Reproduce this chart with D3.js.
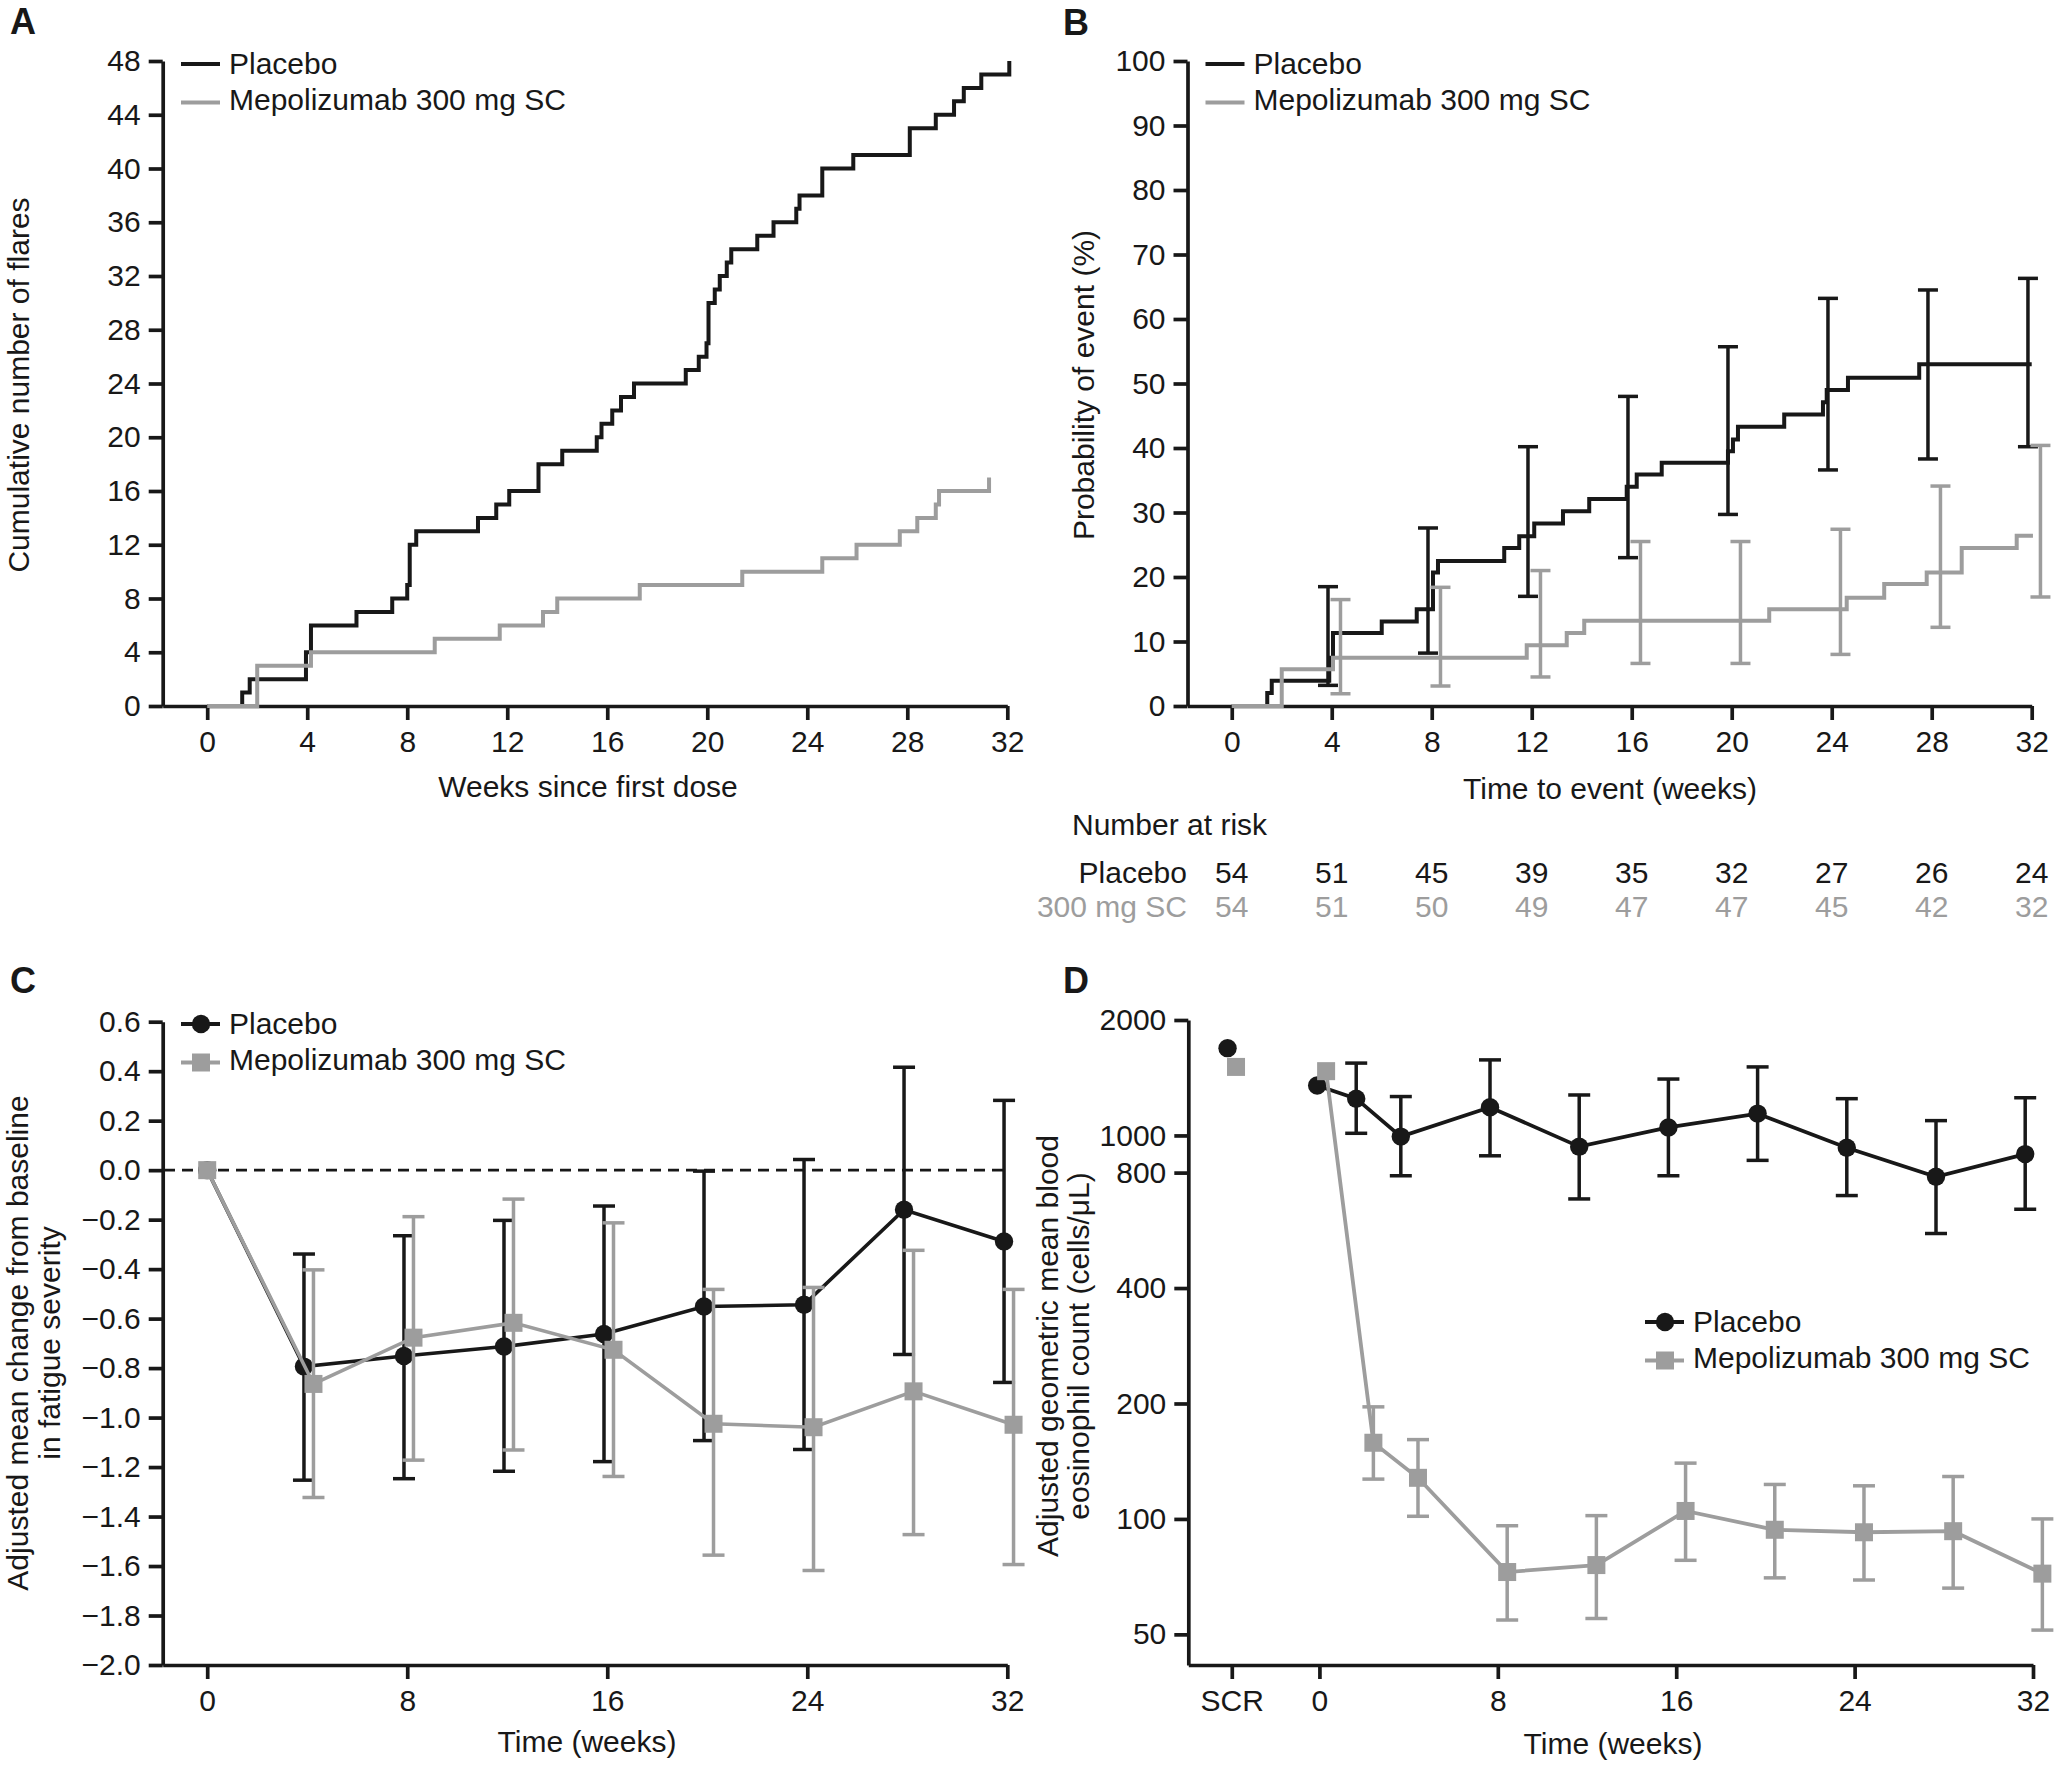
<!DOCTYPE html>
<html>
<head>
<meta charset="utf-8">
<script src="https://cdn.jsdelivr.net/npm/d3@7"></script>
<style>
  body { margin: 0; background: #fff; }
  svg text { font-family: "Liberation Sans", Arial, Helvetica, sans-serif; }
</style>
</head>
<body>
<div id="chart"></div>
<script>
// ---- panel A: cumulative flares (one entry per flare, week of event)
var flareWeeksPlacebo = [1.4, 1.7, 3.95, 3.95, 4.15, 4.15, 5.97, 7.4, 8.0, 8.1, 8.1, 8.1, 8.36,
  10.83, 11.56, 12.08, 13.25, 13.25, 14.2, 15.58, 15.77, 16.2, 16.55, 17.07, 19.14, 19.66,
  19.97, 20.05, 20.05, 20.05, 20.3, 20.5, 20.78, 20.96, 22.0, 22.65, 23.56, 23.69, 24.6, 24.6,
  25.84, 28.1, 28.1, 29.14, 29.87, 30.26, 30.96, 32.08]
var flareWeeksMepo = [2.0, 2.0, 2.0, 4.15, 9.1, 11.7, 13.43, 14.0, 17.3, 21.4, 24.6, 25.97,
  27.7, 28.4, 29.14, 29.27, 31.27]
var flareTicksY = [0, 4, 8, 12, 16, 20, 24, 28, 32, 36, 40, 44, 48]
var weekTicks4 = [0, 4, 8, 12, 16, 20, 24, 28, 32]

// ---- panel B: Kaplan-Meier time to first flare (%)
var kmPlaceboWeeks = [1.42, 1.6, 3.9, 4.05, 6.0, 7.4, 8.05, 8.25, 10.9, 11.5, 12.1, 13.25, 14.3,
  15.8, 16.2, 17.2, 19.85, 20.05, 20.25, 22.1, 23.65, 23.8, 24.65, 27.5]
var kmPlaceboProb = [2.0, 3.9, 7.5, 11.3, 13.1, 15.0, 20.7, 22.5, 24.5, 26.3, 28.3, 30.2, 32.1,
  34.0, 35.9, 37.7, 39.5, 41.3, 43.3, 45.2, 47.1, 49.0, 50.9, 53.0]
var kmPlaceboEnd = 32
var kmMepoWeeks = [2.0, 4.05, 11.8, 13.4, 14.1, 21.5, 24.6, 26.1, 27.8, 29.2, 31.4]
var kmMepoProb = [5.7, 7.5, 9.4, 11.3, 13.2, 15.0, 16.8, 18.9, 20.7, 24.5, 26.4]
var kmMepoEnd = 32.05
var ciWeeks = [4, 8, 12, 16, 20, 24, 28, 32]
var ciPlaceboHi = [18.5, 27.6, 40.2, 48.0, 55.7, 63.2, 64.5, 66.3]
var ciPlaceboLo = [3.2, 8.2, 17.0, 23.0, 29.7, 36.6, 38.3, 40.2]
var ciMepoHi = [16.5, 18.4, 21.0, 25.5, 25.5, 27.4, 34.1, 40.4]
var ciMepoLo = [1.9, 3.1, 4.5, 6.6, 6.6, 8.0, 12.2, 16.9]
var probTicks = [0, 10, 20, 30, 40, 50, 60, 70, 80, 90, 100]
var atRiskPlacebo = [54, 51, 45, 39, 35, 32, 27, 26, 24]
var atRiskMepo = [54, 51, 50, 49, 47, 47, 45, 42, 32]

// ---- panel C: fatigue severity change from baseline
var fatigueWeeks = [0, 4, 8, 12, 16, 20, 24, 28, 32]
var fatiguePlacebo = [0, -0.794, -0.751, -0.713, -0.662, -0.551, -0.544, -0.160, -0.288]
var fatiguePlaceboHi = [null, -0.339, -0.265, -0.203, -0.145, -0.004, 0.043, 0.416, 0.282]
var fatiguePlaceboLo = [null, -1.253, -1.247, -1.217, -1.178, -1.093, -1.129, -0.745, -0.858]
var fatigueMepo = [0, -0.864, -0.677, -0.617, -0.726, -1.025, -1.039, -0.894, -1.029]
var fatigueMepoHi = [null, -0.403, -0.188, -0.117, -0.213, -0.482, -0.474, -0.324, -0.482]
var fatigueMepoLo = [null, -1.323, -1.172, -1.131, -1.238, -1.556, -1.618, -1.473, -1.594]
var fatigueTicksX = [0, 8, 16, 24, 32]

// ---- panel D: blood eosinophils (cells/uL), log scale
var eosWeeks = [0, 2, 4, 8, 12, 16, 20, 24, 28, 32]
var eosScrPlacebo = 1689
var eosScrMepo = 1509
var eosPlacebo = [1350, 1247, 993, 1184, 935, 1049, 1140, 929, 780, 894]
var eosPlaceboHi = [null, 1544, 1263, 1574, 1275, 1403, 1509, 1247, 1093, 1254]
var eosPlaceboLo = [null, 1013, 785, 885, 683, 785, 861, 697, 555, 642]
var eosMepo = [1471, 158, 128, 72.7, 75.8, 104.9, 93.7, 92.3, 92.9, 72]
var eosMepoHi = [null, 196, 161, 96, 102, 139.8, 123, 122, 129, 100]
var eosMepoLo = [null, 127, 101.6, 54.5, 55, 78, 70.2, 69.3, 66, 51.3]
var eosTicksY = [50, 100, 200, 400, 800, 1000, 2000]
var eosTicksX = ['SCR', 0, 8, 16, 24, 32]

var seriesNames = ['Placebo', 'Mepolizumab 300 mg SC']

var black = '#181818',
    grey = '#9d9d9d',
    fontFam = '"Liberation Sans", Arial, Helvetica, sans-serif',
    fs = 30,
    axisW = 3.7,
    tickLen = 14

var svg = d3.select('#chart').append('svg')
  .attr('width', 2056)
  .attr('height', 1770)
  .style('background', '#fff')

function styleAxis(g) {
  g.attr('font-size', fs).attr('font-family', fontFam)
  g.selectAll('path.domain').attr('stroke', black).attr('stroke-width', axisW)
  g.selectAll('.tick line').attr('stroke', black).attr('stroke-width', axisW)
  g.selectAll('.tick text').attr('fill', black)
}

function drawAxes(x, y, yAxisX, xAxisY, xTicks, yTicks, yFmt, xFmt) {
  var gx = svg.append('g').attr('transform', 'translate(0,' + xAxisY + ')')
    .call(d3.axisBottom(x).tickValues(xTicks).tickSize(tickLen).tickSizeOuter(0)
      .tickPadding(11).tickFormat(xFmt || d3.format('d')))
  styleAxis(gx)
  var gy = svg.append('g').attr('transform', 'translate(' + yAxisX + ',0)')
    .call(d3.axisLeft(y).tickValues(yTicks).tickSize(tickLen).tickSizeOuter(0)
      .tickPadding(8).tickFormat(yFmt))
  styleAxis(gy)
}

function label(txt, x, y, opts) {
  opts = opts || {}
  var t = svg.append('text')
    .attr('x', x).attr('y', y)
    .attr('font-size', opts.size || fs)
    .attr('fill', opts.fill || black)
    .attr('text-anchor', opts.anchor || 'start')
    .text(txt)
  if (opts.bold) t.attr('font-weight', 'bold')
  if (opts.rotate) t.attr('transform', 'rotate(-90,' + x + ',' + y + ')')
  return t
}

function errBars(xs, lo, hi, x, y, color, cap) {
  var g = svg.append('g').attr('stroke', color).attr('stroke-width', 3.5)
  xs.forEach(function(w, i) {
    if (lo[i] == null) return
    var cx = x(w)
    g.append('line').attr('x1', cx).attr('x2', cx).attr('y1', y(lo[i])).attr('y2', y(hi[i]))
    g.append('line').attr('x1', cx - cap / 2).attr('x2', cx + cap / 2).attr('y1', y(lo[i])).attr('y2', y(lo[i]))
    g.append('line').attr('x1', cx - cap / 2).attr('x2', cx + cap / 2).attr('y1', y(hi[i])).attr('y2', y(hi[i]))
  })
}

// first row: line y, second row sits a little closer (as in the original)
function legend(x0, y0, markers) {
  var lineYs = [y0, y0 + 38.5],
      textYs = [y0 + 9.5, y0 + 46]
  seriesNames.forEach(function(name, i) {
    var col = i === 0 ? black : grey
    svg.append('line')
      .attr('x1', x0).attr('x2', x0 + 39)
      .attr('y1', lineYs[i]).attr('y2', lineYs[i])
      .attr('stroke', col).attr('stroke-width', 4.2)
    if (markers) {
      if (i === 0) {
        svg.append('circle').attr('cx', x0 + 20).attr('cy', lineYs[i]).attr('r', 9.2).attr('fill', col)
      } else {
        svg.append('rect').attr('x', x0 + 11).attr('y', lineYs[i] - 9).attr('width', 18).attr('height', 18).attr('fill', col)
      }
    }
    label(name, x0 + 48, textYs[i])
  })
}

// ================= Panel A
var xA = d3.scaleLinear().domain([-1.78, 32]).range([162.7, 1007.3])
var yA = d3.scaleLinear().domain([0, 48]).range([706, 61])
drawAxes(xA, yA, 162.7, 706, weekTicks4, flareTicksY, d3.format('d'))

var stepA = d3.line().x(function(d) { return xA(d[0]) }).y(function(d) { return yA(d[1]) })
  .curve(d3.curveStepAfter)
function cumPoints(times) {
  var pts = [[0, 0]]
  times.forEach(function(t, i) { pts.push([t, i + 1]) })
  return pts
}
svg.append('path').datum(cumPoints(flareWeeksPlacebo))
  .attr('d', stepA).attr('fill', 'none').attr('stroke', black).attr('stroke-width', 4)
svg.append('path').datum(cumPoints(flareWeeksMepo))
  .attr('d', stepA).attr('fill', 'none').attr('stroke', grey).attr('stroke-width', 4)

legend(181, 64, false)
label('A', 10, 34, { bold: true, size: 36 })
label('Weeks since first dose', 588, 797, { anchor: 'middle' })
label('Cumulative number of flares', 29, 385, { anchor: 'middle', rotate: true })

// ================= Panel B
var xB = d3.scaleLinear().domain([-1.77, 32]).range([1187.5, 2031.7])
var yB = d3.scaleLinear().domain([0, 100]).range([706, 61])
drawAxes(xB, yB, 1187.5, 706, weekTicks4, probTicks, d3.format('d'))

var stepB = d3.line().x(function(d) { return xB(d[0]) }).y(function(d) { return yB(d[1]) })
  .curve(d3.curveStepAfter)
function kmPoints(times, probs, end) {
  var pts = [[0, 0]]
  times.forEach(function(t, i) { pts.push([t, probs[i]]) })
  pts.push([end, probs[probs.length - 1]])
  return pts
}
errBars(ciWeeks.map(function(w) { return w - 0.15 }), ciPlaceboLo, ciPlaceboHi, xB, yB, black, 20)
svg.append('path').datum(kmPoints(kmPlaceboWeeks, kmPlaceboProb, kmPlaceboEnd))
  .attr('d', stepB).attr('fill', 'none').attr('stroke', black).attr('stroke-width', 4)
errBars(ciWeeks.map(function(w) { return w + 0.35 }), ciMepoLo, ciMepoHi, xB, yB, grey, 20)
svg.append('path').datum(kmPoints(kmMepoWeeks, kmMepoProb, kmMepoEnd))
  .attr('d', stepB).attr('fill', 'none').attr('stroke', grey).attr('stroke-width', 4)

legend(1205.5, 64, false)
label('B', 1063, 35, { bold: true, size: 36 })
label('Time to event (weeks)', 1610, 799, { anchor: 'middle' })
label('Probability of event (%)', 1094, 385, { anchor: 'middle', rotate: true })

// number at risk table
label('Number at risk', 1072, 835)
label('Placebo', 1187, 883, { anchor: 'end' })
label('300 mg SC', 1187, 917, { anchor: 'end', fill: grey })
weekTicks4.forEach(function(w, i) {
  label(atRiskPlacebo[i], xB(w), 883, { anchor: 'middle' })
  label(atRiskMepo[i], xB(w), 917, { anchor: 'middle', fill: grey })
})

// ================= Panel C
var xC = d3.scaleLinear().domain([-1.78, 32]).range([162.7, 1007.3])
var yC = d3.scaleLinear().domain([-2, 0.6]).range([1665, 1021.7])
var fatigueTicksY = d3.range(-10, 4).map(function(i) { return i / 5 })
drawAxes(xC, yC, 162.7, 1665, fatigueTicksX, fatigueTicksY, d3.format('.1f'))

svg.append('line')
  .attr('x1', 164).attr('x2', xC(32))
  .attr('y1', yC(0)).attr('y2', yC(0))
  .attr('stroke', black).attr('stroke-width', 2.8).attr('stroke-dasharray', '11,7')

function drawSeries(xs, vals, lo, hi, x, y, color, shape, dodge, lw) {
  var px = xs.map(function(w) { return dodge(w) })
  errBars(px, lo, hi, x, y, color, 22)
  var pts = px.map(function(w, i) { return [w, vals[i]] })
  svg.append('path').datum(pts)
    .attr('d', d3.line().x(function(d) { return x(d[0]) }).y(function(d) { return y(d[1]) }))
    .attr('fill', 'none').attr('stroke', color).attr('stroke-width', lw)
  var g = svg.append('g').attr('fill', color)
  pts.forEach(function(d) {
    if (shape === 'circle') {
      g.append('circle').attr('cx', x(d[0])).attr('cy', y(d[1])).attr('r', 9.2)
    } else {
      g.append('rect').attr('x', x(d[0]) - 9).attr('y', y(d[1]) - 9).attr('width', 18).attr('height', 18)
    }
  })
}

drawSeries(fatigueWeeks, fatiguePlacebo, fatiguePlaceboLo, fatiguePlaceboHi, xC, yC, black, 'circle',
  function(w) { return w === 0 ? 0 : w - 0.13 }, 3.6)
drawSeries(fatigueWeeks, fatigueMepo, fatigueMepoLo, fatigueMepoHi, xC, yC, grey, 'square',
  function(w) { return w === 0 ? 0 : w + 0.25 }, 3.6)

legend(181, 1024, true)
label('C', 10, 993, { bold: true, size: 36 })
label('Time (weeks)', 587, 1752, { anchor: 'middle' })
label('Adjusted mean change from baseline', 28, 1343, { anchor: 'middle', rotate: true })
label('in fatigue severity', 60, 1343, { anchor: 'middle', rotate: true })

// ================= Panel D
var scrWeek = -3.93
var xD = d3.scaleLinear().domain([-5.88, 32]).range([1188.3, 2033])
var yD = d3.scaleLog().domain([41.6, 2000]).range([1665, 1020])
drawAxes(xD, yD, 1188.3, 1665, eosTicksX.map(function(v) { return v === 'SCR' ? scrWeek : v }),
  eosTicksY, d3.format('d'), function(v) { return v === scrWeek ? 'SCR' : v })

drawSeries(eosWeeks, eosPlacebo, eosPlaceboLo, eosPlaceboHi, xD, yD, black, 'circle',
  function(w) { return w === 0 ? -0.1 : w - 0.35 }, 3.8)
drawSeries(eosWeeks, eosMepo, eosMepoLo, eosMepoHi, xD, yD, grey, 'square',
  function(w) { return w === 0 ? 0.3 : w + 0.42 }, 3.8)
// screening values (not joined to the lines)
svg.append('circle').attr('cx', xD(scrWeek - 0.19)).attr('cy', yD(eosScrPlacebo)).attr('r', 9.2).attr('fill', black)
svg.append('rect').attr('x', xD(scrWeek + 0.19) - 9).attr('y', yD(eosScrMepo) - 9)
  .attr('width', 18).attr('height', 18).attr('fill', grey)

legend(1645, 1322, true)
label('D', 1063, 993, { bold: true, size: 36 })
label('Time (weeks)', 1613, 1754, { anchor: 'middle' })
label('Adjusted geometric mean blood', 1058, 1346, { anchor: 'middle', rotate: true })
label('eosinophil count (cells/\u03bcL)', 1089, 1346, { anchor: 'middle', rotate: true })
</script>
</body>
</html>
